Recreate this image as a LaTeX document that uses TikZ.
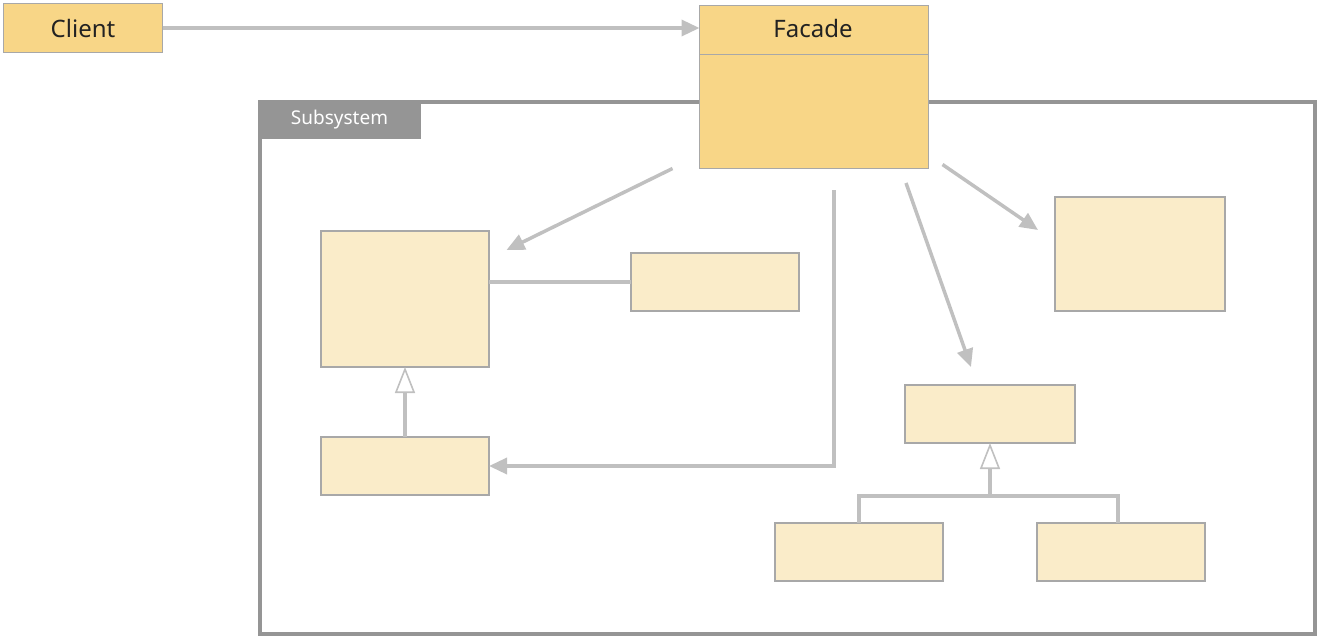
\documentclass[tikz,border=0pt]{standalone}
\usepackage{fontspec}
\setmainfont{Noto Sans}
\usetikzlibrary{arrows.meta}
\definecolor{facadefill}{HTML}{F8D687}
\definecolor{lightfill}{HTML}{FAECC9}
\definecolor{boxborder}{HTML}{A8A8A8}
\definecolor{conn}{HTML}{C0C0C0}
\definecolor{framecol}{HTML}{959595}
\definecolor{txt}{HTML}{222222}
\tikzset{
  box/.style={draw=boxborder, line width=1.6pt, fill=lightfill, rectangle, inner sep=0pt, outer sep=0pt, anchor=north west},
  mainbox/.style={box, fill=facadefill},
  conline/.style={draw=conn, line width=3.5pt},
  arr/.style={conline, -{Triangle[length=18pt,width=16pt]}},
  inh/.style={conline, -{Triangle[length=26pt,width=20pt,fill=white,line width=1.6pt]}},
}
\begin{document}
\begin{tikzpicture}[x=1pt,y=-1pt]
\useasboundingbox (0,0) rectangle (1320,638);
% subsystem frame
\draw[framecol, line width=4pt] (260,102) rectangle (1315,634);
\node[fill=framecol, inner sep=0pt, outer sep=0pt, minimum width=163pt, minimum height=39pt, anchor=north west,
      text=white, font=\fontsize{19}{22}\selectfont] (tab) at (258,100) {Subsystem};
% client
\node[mainbox, minimum width=159pt, minimum height=49pt, text=txt, font=\fontsize{24}{28}\selectfont] (client) at (3.5,3.5) {Client};
% facade
\node[mainbox, minimum width=229pt, minimum height=163pt] (facade) at (699.5,5.5) {};
\draw[boxborder, line width=1.6pt] (699.5,54.5) -- (928.5,54.5);
\node[text=txt, font=\fontsize{24}{28}\selectfont] (facadelbl) at (813,28) {Facade};
% subsystem classes
\node[box, minimum width=168pt, minimum height=136pt] (A) at (321,231) {};
\node[box, minimum width=168pt, minimum height=58pt] (B) at (631,253) {};
\node[box, minimum width=168pt, minimum height=58pt] (C) at (321,437) {};
\node[box, minimum width=170pt, minimum height=114pt] (D) at (1055,197) {};
\node[box, minimum width=170pt, minimum height=58pt] (E) at (905,385) {};
\node[box, minimum width=168pt, minimum height=58pt] (F) at (775,523) {};
\node[box, minimum width=168pt, minimum height=58pt] (G) at (1037,523) {};
% free coordinates
\coordinate (s1) at (672.5,168.5);
\coordinate (t1) at (506.5,250);
\coordinate (s2) at (834,190);
\coordinate (k2) at (834,466);
\coordinate (s3) at (906,183);
\coordinate (t3) at (971,367);
\coordinate (s4) at (942.5,164.5);
\coordinate (t4) at (1038,230);
\coordinate (j) at (990,496);
% connectors
\draw[arr] (client.east) -- (facade.west |- client.east);
\draw[arr] (s1) -- (t1);
\draw[arr] (s2) -- (k2) -- (C.east |- k2);
\draw[arr] (s3) -- (t3);
\draw[arr] (s4) -- (t4);
\draw[conline] (A.east |- 0,282) -- (B.west |- 0,282);
\draw[inh] (C.north -| 405,0) -- (A.south -| 405,0);
\draw[conline] (F.north -| 859,0) -- (859,496) -- (1118,496) -- (G.north -| 1118,0);
\draw[inh] (j) -- (E.south -| j);
\end{tikzpicture}
\end{document}
